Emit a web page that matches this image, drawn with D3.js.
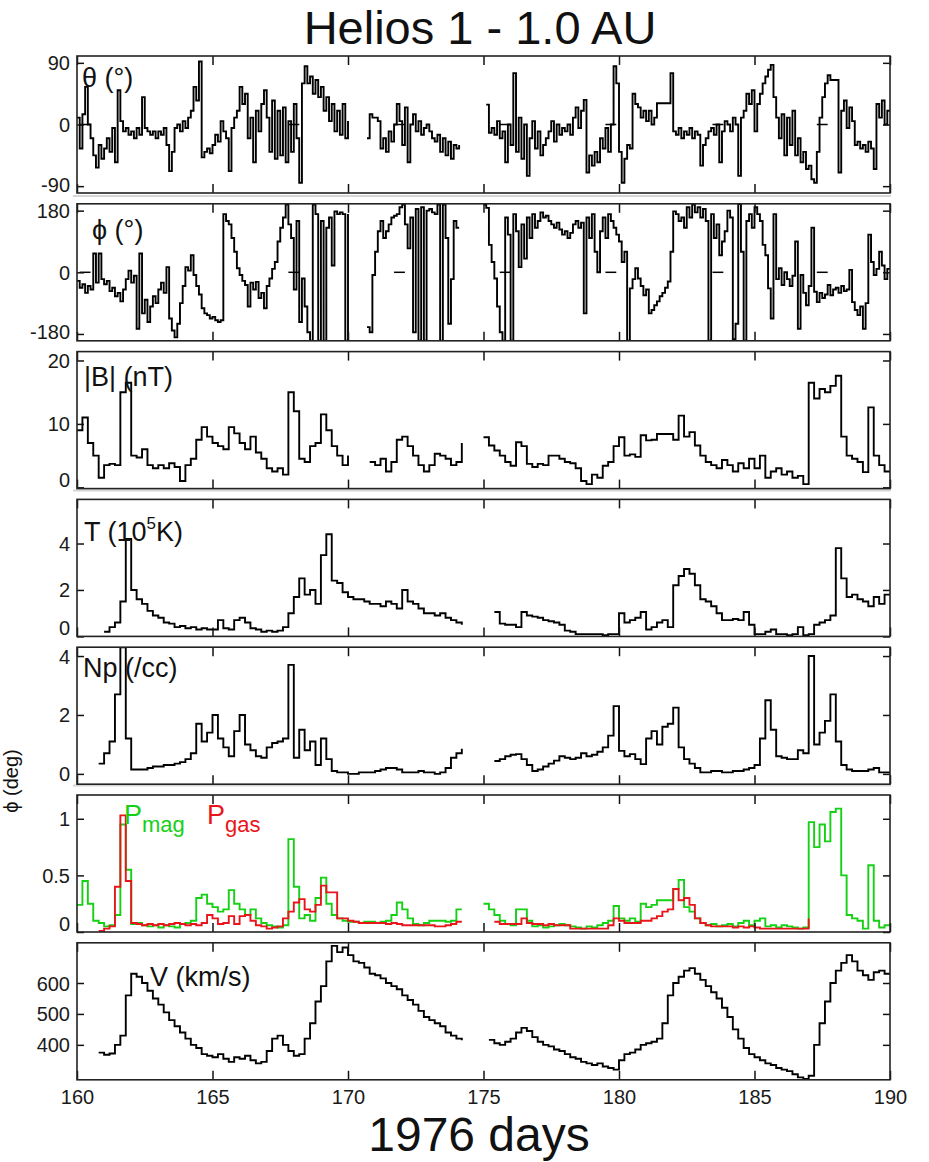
<!DOCTYPE html>
<html>
<head>
<meta charset="utf-8">
<script src="https://cdn.jsdelivr.net/npm/d3@7"></script>
<style>
  body { margin: 0; background: #fff; }
  svg text { font-family: "Liberation Sans", Arial, Helvetica, sans-serif; }
</style>
</head>
<body>
<svg id="chart" width="929" height="1162"></svg>
<script>
const N = null;

// ---- time axis ----
const dayDomain = [160, 190];
const dayTicks = [160, 165, 170, 175, 180, 185, 190];
const fineStepPerDay = 10;   // theta / phi sampled every 0.1 day
const coarseStepPerDay = 5;  // other quantities sampled every 0.2 day

// ---- magnetic field latitude theta (deg), 0.1-day samples from day 160.0 ----
const thetaDeg = [
  10, -35, 15, 55, 0, -20, -45, -63, -30, -50,
  -35, -20, -40, -5, -55, 50, 5, -10, -5, -15,
  -10, -20, -5, -15, 40, -5, -10, -15, -10, -20,
  -10, -15, -5, -30, -68, -40, -5, 0, -10, 5,
  -5, 10, 20, 55, 35, 92, -48, -40, -35, -42,
  -30, -15, -25, 5, -10, -20, -68, -5, 10, 20,
  55, 30, 45, -20, 10, -55, 20, -10, 30, 50,
  10, -40, 35, -50, 20, -45, 25, -55, 5, -40,
  30, -20, -85, 60, 85, 60, 70, 45, 65, 40,
  55, 20, 40, 5, 30, -10, 20, -15, 30, -20,
  5, N, N, N, N, N, N, -20, 15, 10,
  10, 5, -35, -20, -40, -10, -25, 0, 30, 5,
  -30, 25, -55, 0, 15, -10, 5, -15, -5, 0,
  -10, -20, -25, -15, -40, -20, -45, -25, -50, -30,
  -35, -30, N, N, N, N, N, N, N, N,
  N, 29, -12, -5, -15, 5, -20, -10, -55, 0,
  -30, 75, -40, 10, -50, 0, -75, -20, 5, -35,
  -10, -45, -30, -20, -10, 5, -25, 0, -15, -5,
  -10, 0, -15, 10, 25, -5, 20, 36, -70, -45,
  -60, -40, -55, -20, -35, -5, -40, 0, 85, 60,
  -40, -85, -50, -30, -35, 45, 30, 25, 10, 20,
  5, 20, 0, 10, 31, 31, 31, 31, 31, 75,
  -10, -15, -5, -20, -10, -15, -5, -20, -10, -15,
  -60, -30, -20, -10, -5, -15, 0, -55, -10, 5,
  0, -10, 10, 0, -75, 10, 20, 45, 30, 50,
  -10, 30, 45, 60, 70, 80, 87, 40, 10, -20,
  15, -45, 10, -30, 20, -45, -20, -55, -40, -65,
  -60, -80, -85, -40, 10, 40, 60, 72, 65, 65,
  65, -70, 20, 35, -5, 25, 5, -30, -25, -35,
  -30, -40, -25, -35, -65, 30, 10, 35, 0, 20,
  20
];

// ---- magnetic field azimuth phi (deg), 0.1-day samples ----
const phiDeg = [
  -25, -45, -35, -60, -40, -50, 55, -30, 55, -20,
  -35, -25, -55, -45, -70, -60, -85, -50, -20, 5,
  -30, -10, -165, 55, -120, -80, -145, -100, -70, -90,
  -50, -30, -60, 15, -135, -170, -190, -150, -90, -40,
  15, 5, 50, -8, -40, -65, -105, -120, -125, -135,
  -130, -140, -145, -140, 170, 150, 140, 100, 60, 12,
  -8, -25, -37, -100, -30, -50, -28, -75, -60, -105,
  -40, -18, 10, 30, 90, 130, 160, 198, 140, 100,
  -50, 150, -145, -18, -100, -175, -200, 198, 170, -200,
  150, -200, 130, 160, 20, 178, 170, 175, 170, -200,
  170, N, N, N, N, N, N, -160, -175, -8,
  60, 120, 150, 100, 120, 140, 160, 165, 170, 190,
  198, 140, 70, 160, -175, 185, -200, 190, -200, 180,
  185, 175, 170, 198, -200, 198, 100, -150, -20, 150,
  130, 130, N, N, N, N, N, N, N, N,
  198, 188, 80, 30, -18, -100, -175, -200, 160, 110,
  -200, 170, 120, 15, 140, 40, 160, 100, 170, 130,
  150, 175, 160, 165, 150, 140, 130, 145, 125, 110,
  120, 100, 115, 140, 150, 130, 145, -120, 160, 100,
  170, 60, 0, 120, 160, 100, 170, 150, 130, 110,
  90, 30, 60, -200, -47, -20, 12, -18, -40, -67,
  -50, -120, -110, -96, -85, -70, -60, -45, -27, 60,
  178, 170, 150, 160, 130, 190, 160, 198, 175, 190,
  160, 185, 150, -200, 170, 100, 140, 50, 90, 120,
  180, 160, -195, -150, 199, 60, -200, 150, 170, 130,
  190, 170, 150, 80, 50, -47, -135, 170, -20, 12,
  -37, 0, -20, -40, -10, 90, -165, -8, -60, -96,
  -40, 130, -57, -87, -60, -75, -65, -37, -67, -50,
  -45, -60, -40, -55, -50, 7, -87, -110, -125, -100,
  -165, -90, 110, 30, -8, 10, 60, 20, -20, 10,
  10
];

// ---- |B| (nT), 0.2-day samples ----
const bMag = [
  9, 11, 7, 5, 1.5,
  3.5, 3.7, 3.5, 15, 16.5,
  5, 4.7, 6, 3.5, 3,
  3.5, 3, 3.8, 3.2, 1,
  3.5, 4.5, 7.5, 9.5, 8,
  7, 6.5, 6, 9.5, 8.5,
  7, 6, 8, 5.5, 4.5,
  3, 2.5, 3, 2, 15,
  12, 4.5, 4, 6.5, 7,
  11.5, 9, 6.5, 5, 3.5,
  5, N, N, N, 4,
  3.5, 4.5, 2.5, 4, 7.5,
  8, 6.5, 5, 3.5, 2.5,
  3.5, 5.3, 5, 4.5, 3.5,
  4, 7, N, N, N,
  7.9, 6.6, 5.8, 5, 4,
  3.4, 7.1, 6.5, 3.7, 3.2,
  3.7, 3.5, 5, 5, 4.5,
  4, 3.8, 3, 1, 0.5,
  2, 1.5, 3.4, 4, 6.5,
  7.9, 5, 5.2, 4.8, 8.2,
  7.4, 7.5, 8.4, 8.4, 8.4,
  7.5, 11.3, 8, 8.7, 6.6,
  5, 4, 3.5, 3, 4.3,
  3.5, 2.5, 3.8, 3, 4.5,
  3, 5, 1.5, 2.5, 3,
  2, 2.5, 1.5, 1.8, 0.5,
  16.5, 14, 15.5, 15, 16,
  17.6, 8, 5, 4.5, 4,
  2.4, 12.6, 5, 3.5, 2.5,
  2.5
];

// ---- proton temperature (1e5 K), 0.2-day samples ----
const tempE5 = [
  N, N, N, N, N,
  0.2, 0.4, 0.6, 1.5, 4.2,
  2, 1.6, 1.4, 1.1, 0.9,
  0.8, 0.6, 0.55, 0.4, 0.45,
  0.35, 0.4, 0.3, 0.35, 0.3,
  0.3, 0.7, 0.35, 0.3, 0.7,
  0.8, 0.6, 0.35, 0.3, 0.2,
  0.25, 0.2, 0.25, 0.4, 1.0,
  1.7, 2.5, 1.8, 2.0, 1.4,
  3.5, 4.4, 2.4, 2.3, 1.9,
  1.7, 1.6, 1.6, 1.5, 1.4,
  1.4, 1.3, 1.5, 1.4, 1.2,
  2.0, 1.5, 1.4, 1.2, 1.0,
  1.0, 0.9, 1.0, 0.8, 0.7,
  0.6, 0.5, N, N, N,
  N, N, 1.05, 0.55, 0.5,
  0.5, 0.4, 1.05, 0.9, 0.85,
  0.8, 0.7, 0.65, 0.6, 0.5,
  0.25, 0.2, 0.1, 0.1, 0.1,
  0.1, 0.1, 0.05, 0.1, 0.1,
  1.0, 0.6, 0.7, 0.8, 1.05,
  0.3, 0.4, 0.6, 0.7, 0.4,
  2.2, 2.6, 2.9, 2.7, 2.2,
  1.6, 1.5, 1.3, 1.0, 0.7,
  0.7, 0.75, 0.7, 1.05, 0.5,
  0.1, 0.1, 0.2, 0.3, 0.1,
  0.1, 0.05, 0.1, 0.4, 0.05,
  0.1, 0.5, 0.6, 0.7, 0.9,
  3.8, 2.5, 1.7, 1.8, 1.6,
  1.5, 1.3, 1.7, 1.4, 1.8,
  1.8
];

// ---- proton density (/cc), 0.2-day samples ----
const npDensity = [
  N, N, N, N, 0.35,
  0.7, 1.1, 2.7, 4.3, 1.2,
  0.15, 0.15, 0.15, 0.2, 0.25,
  0.25, 0.3, 0.3, 0.35, 0.4,
  0.5, 0.7, 1.7, 1.1, 1.4,
  2.0, 1.2, 0.9, 0.6, 1.45,
  2.0, 1.0, 0.8, 0.6, 0.55,
  0.9, 1.05, 1.1, 1.2, 3.7,
  0.55, 1.5, 0.8, 1.1, 0.3,
  1.2, 0.5, 0.1, 0.05, 0.05,
  0.0, 0.0, 0.05, 0.05, 0.05,
  0.1, 0.15, 0.2, 0.2, 0.15,
  0.05, 0.05, 0.05, 0.1, 0.05,
  0.05, 0.0, 0.05, 0.2, 0.55,
  0.7, 0.85, N, N, N,
  N, N, 0.44, 0.5, 0.6,
  0.65, 0.67, 0.5, 0.3, 0.1,
  0.15, 0.25, 0.35, 0.45, 0.6,
  0.55, 0.5, 0.55, 0.7, 0.6,
  0.65, 0.75, 0.9, 1.3, 2.3,
  0.78, 0.6, 0.67, 0.5, 0.33,
  1.2, 1.45, 1.0, 1.6, 1.7,
  2.25, 0.9, 0.5, 0.35, 0.2,
  0.05, 0.05, 0.1, 0.1, 0.05,
  0.05, 0.1, 0.1, 0.15, 0.2,
  0.3, 1.2, 2.5, 1.5, 0.6,
  0.55, 0.5, 0.5, 0.8, 0.7,
  4.0, 1.0, 1.4, 1.8, 2.7,
  1.1, 0.3, 0.15, 0.1, 0.1,
  0.1, 0.15, 0.2, 0.05, 0.05,
  0.05
];

// ---- magnetic pressure and gas pressure, 0.2-day samples ----
const pMag = [
  0.24, 0.45, 0.25, 0.1, 0.08,
  0.05, 0.06, 0.15, 0.95, 0.55,
  0.07, 0.08, 0.06, 0.05, 0.06,
  0.04, 0.06, 0.05, 0.04, 0.07,
  0.08, 0.1, 0.3, 0.33, 0.25,
  0.22, 0.18, 0.2, 0.37, 0.25,
  0.2, 0.15, 0.2, 0.12, 0.08,
  0.06, 0.05, 0.04, 0.06, 0.82,
  0.4, 0.12, 0.15, 0.1, 0.3,
  0.48, 0.25, 0.15, 0.12, 0.1,
  0.09, 0.09, 0.08, 0.09, 0.09,
  0.08, 0.09, 0.1, 0.15, 0.26,
  0.2, 0.12, 0.07, 0.06, 0.08,
  0.1, 0.1, 0.1, 0.09, 0.1,
  0.2, 0.2, N, N, N,
  0.25, 0.2, 0.15, 0.1, 0.07,
  0.06, 0.2, 0.2, 0.1, 0.05,
  0.06, 0.04, 0.05, 0.06, 0.07,
  0.06, 0.05, 0.04, 0.03, 0.05,
  0.04, 0.06, 0.08, 0.1, 0.23,
  0.12, 0.1, 0.12, 0.09, 0.25,
  0.22, 0.24, 0.28, 0.28, 0.28,
  0.38, 0.46, 0.22, 0.18, 0.12,
  0.08, 0.06, 0.07, 0.05, 0.06,
  0.07, 0.05, 0.08, 0.1, 0.06,
  0.1, 0.12, 0.05, 0.06, 0.04,
  0.06, 0.05, 0.04, 0.03, 0.04,
  0.97, 0.75, 0.95, 0.8, 1.06,
  1.09, 0.5, 0.15, 0.12, 0.1,
  0.03, 0.59, 0.1, 0.04, 0.06,
  0.06
];

const pGas = [
  N, N, N, N, 0.01,
  0.03, 0.05, 0.4, 1.03, 0.45,
  0.08, 0.07, 0.06, 0.07, 0.06,
  0.07, 0.06, 0.07, 0.08, 0.07,
  0.06, 0.07, 0.06, 0.08, 0.15,
  0.12, 0.07, 0.08, 0.14, 0.07,
  0.14, 0.15, 0.1, 0.06, 0.05,
  0.03, 0.04, 0.05, 0.12, 0.18,
  0.26, 0.29, 0.2, 0.18, 0.24,
  0.41, 0.35, 0.35, 0.12, 0.12,
  0.1, 0.09, 0.08, 0.08, 0.08,
  0.08, 0.08, 0.07, 0.08, 0.07,
  0.06, 0.06, 0.06, 0.06, 0.06,
  0.06, 0.05, 0.05, 0.06, 0.07,
  0.09, 0.09, N, N, N,
  N, N, 0.09, 0.07, 0.07,
  0.07, 0.07, 0.12, 0.08, 0.07,
  0.07, 0.06, 0.07, 0.06, 0.06,
  0.06, 0.03, 0.03, 0.03, 0.03,
  0.03, 0.03, 0.03, 0.06, 0.12,
  0.1, 0.08, 0.08, 0.08, 0.1,
  0.1, 0.12, 0.14, 0.18, 0.2,
  0.38, 0.28, 0.3, 0.24, 0.12,
  0.08, 0.06, 0.05, 0.05, 0.05,
  0.05, 0.04, 0.05, 0.04, 0.05,
  0.04, 0.03, 0.03, 0.03, 0.03,
  0.03, 0.03, 0.03, 0.03, 0.03,
  0.12, N, N, N, N,
  N, N, N, N, N,
  N, N, N, N, N,
  N
];

// ---- solar wind speed (km/s), 0.2-day samples ----
const speed = [
  N, N, N, N, 375,
  368, 372, 400, 430, 560,
  630, 620, 600, 575, 550,
  530, 505, 480, 460, 440,
  420, 400, 390, 370, 365,
  360, 370, 355, 345, 360,
  355, 365, 350, 340, 345,
  380, 420, 430, 400, 380,
  365, 370, 420, 470, 540,
  590, 670, 720, 700, 715,
  690, 670, 665, 650, 630,
  625, 615, 600, 590, 580,
  560, 545, 530, 510, 490,
  480, 470, 460, 440, 430,
  420, 415, N, N, N,
  N, 416, 405, 400, 410,
  420, 440, 455, 445, 425,
  410, 400, 395, 385, 380,
  370, 360, 355, 345, 340,
  335, 340, 330, 325, 320,
  350, 370, 375, 385, 400,
  405, 410, 420, 470, 560,
  600, 620, 640, 648, 630,
  610, 590, 570, 550, 520,
  490, 450, 420, 390, 370,
  360, 350, 340, 335, 325,
  320, 315, 305, 295, 290,
  300, 400, 470, 540, 600,
  640, 665, 690, 670, 640,
  625, 610, 635, 640, 630,
  630
];

// short zero-level markers in the angle panels (start day of each)
const zeroMarkDays = [160.1, 167.8, 171.7, 175.6, 179.5, 183.45, 187.3];

// ---- y tick values per panel ----
const thetaTicks = [-90, 0, 90];
const phiTicks = [-180, 0, 180];
const bTicks = [0, 10, 20];
const tTicks = [0, 2, 4];
const npTicks = [0, 2, 4];
const pTicks = [0, 0.5, 1];
const vTicks = [400, 500, 600];

// ---- layout ----
const svg = d3.select("#chart");
const plotLeft = 77, plotRight = 890;
const panelTop0 = 56, panelStep = 147.8, panelH = 137;
const FONT = '"Liberation Sans", Arial, sans-serif';

const x = d3.scaleLinear().domain(dayDomain).range([plotLeft, plotRight]);
const fineDays = d3.range(thetaDeg.length).map(i => dayDomain[0] + i / fineStepPerDay);
const coarseDays = d3.range(bMag.length).map(i => dayDomain[0] + i / coarseStepPerDay);

const BLACK = "#000";
const GREEN = "#16d016";
const RED = "#e8161b";

const panels = [
  { domain: [-100, 100], ticks: thetaTicks, zero: true,
    series: [{ days: fineDays, values: thetaDeg, color: BLACK }] },
  { domain: [-200, 200], ticks: phiTicks, zero: true,
    series: [{ days: fineDays, values: phiDeg, color: BLACK }] },
  { domain: [-0.2, 21.4], ticks: bTicks,
    series: [{ days: coarseDays, values: bMag, color: BLACK }] },
  { domain: [0, 5.9], ticks: tTicks,
    series: [{ days: coarseDays, values: tempE5, color: BLACK }] },
  { domain: [-0.35, 4.3], ticks: npTicks,
    series: [{ days: coarseDays, values: npDensity, color: BLACK }] },
  { domain: [0, 1.21], ticks: pTicks,
    series: [{ days: coarseDays, values: pMag, color: GREEN },
             { days: coarseDays, values: pGas, color: RED }] },
  { domain: [287, 730], ticks: vTicks, last: true,
    series: [{ days: coarseDays, values: speed, color: BLACK }] }
];

// faint separator strips above some panels
[196, 490.5, 785.5].forEach(yy => {
  svg.append("line").attr("x1", 73).attr("x2", plotRight + 1)
    .attr("y1", yy).attr("y2", yy)
    .attr("stroke", "#d6d6d6").attr("stroke-width", 2);
});

panels.forEach((p, i) => {
  const top = panelTop0 + i * panelStep;
  const bottom = top + panelH;
  const y = d3.scaleLinear().domain(p.domain).range([bottom, top]);
  const g = svg.append("g");

  const clipId = "clip" + i;
  svg.append("clipPath").attr("id", clipId).append("rect")
    .attr("x", plotLeft).attr("y", top).attr("width", plotRight - plotLeft).attr("height", panelH);

  // zero-level markers
  if (p.zero) {
    g.selectAll("line.zm").data(zeroMarkDays).join("line")
      .attr("class", "zm")
      .attr("x1", d => x(d)).attr("x2", d => x(d + 0.4))
      .attr("y1", y(0)).attr("y2", y(0))
      .attr("stroke", BLACK).attr("stroke-width", 1.5);
  }

  // data traces
  const plot = g.append("g").attr("clip-path", `url(#${clipId})`);
  p.series.forEach(s => {
    const pts = s.days.map((d, k) => ({ d, v: s.values[k] }));
    const line = d3.line()
      .defined(q => q.v !== null)
      .x(q => x(q.d)).y(q => y(q.v))
      .curve(d3.curveStepAfter);
    plot.append("path").datum(pts)
      .attr("d", line)
      .attr("fill", "none")
      .attr("stroke", s.color)
      .attr("stroke-width", 1.9)
      .attr("stroke-linejoin", "miter");
  });

  // x ticks, inward on top and bottom
  const xTop = d3.axisTop(x).tickValues(dayTicks).tickSize(-9).tickFormat("");
  g.append("g").attr("transform", `translate(0,${top})`).call(xTop)
    .call(a => a.select(".domain").remove());
  const xBot = d3.axisBottom(x).tickValues(dayTicks).tickSize(-9).tickPadding(10)
    .tickFormat(p.last ? (d => String(d)) : "");
  const xb = g.append("g").attr("transform", `translate(0,${bottom})`).call(xBot)
    .call(a => a.select(".domain").remove());
  xb.selectAll("text").attr("font-size", 20).attr("fill", "#1a1a1a")
    .attr("font-family", FONT);

  // y ticks, inward on both sides
  const yl = g.append("g").attr("transform", `translate(${plotLeft},0)`)
    .call(d3.axisLeft(y).tickValues(p.ticks).tickSize(-7).tickPadding(7).tickFormat(d => String(d)))
    .call(a => a.select(".domain").remove());
  yl.selectAll("text")
    .attr("font-size", 20).attr("fill", "#1a1a1a")
    .attr("font-family", FONT)
    .attr("dy", "0.35em")
    .attr("y", d => Math.min(y(d), bottom - 9) - y(d));
  g.append("g").attr("transform", `translate(${plotRight},0)`)
    .call(d3.axisRight(y).tickValues(p.ticks).tickSize(-7).tickFormat(""))
    .call(a => a.select(".domain").remove());

  g.selectAll(".tick line").attr("stroke", "#111").attr("stroke-width", 1.5);

  // frame
  g.append("rect").attr("x", plotLeft).attr("y", top)
    .attr("width", plotRight - plotLeft).attr("height", panelH)
    .attr("fill", "none").attr("stroke", "#222").attr("stroke-width", 1.6);
});

// ---- panel labels ----
const lab = (xx, yy, color) => svg.append("text").attr("x", xx).attr("y", yy)
  .attr("font-size", 27).attr("fill", color || "#111");
const pt = i => panelTop0 + i * panelStep;

lab(82, pt(0) + 31).text("θ (°)");
lab(92, pt(1) + 35).text("ϕ (°)");
lab(84, pt(2) + 34).text("|B| (nT)");
{
  const t = lab(84, pt(3) + 42);
  t.append("tspan").text("T (10");
  t.append("tspan").attr("font-size", 17).attr("dy", -12).text("5");
  t.append("tspan").attr("dy", 12).text("K)");
}
lab(83, pt(4) + 30).text("Np (/cc)");
{
  const a = lab(124, pt(5) + 29, GREEN);
  a.append("tspan").text("P");
  a.append("tspan").attr("font-size", 22).attr("dy", 8).text("mag");
  const b = lab(207, pt(5) + 29, RED);
  b.append("tspan").text("P");
  b.append("tspan").attr("font-size", 22).attr("dy", 8).text("gas");
}
lab(150, pt(6) + 43).text("V (km/s)");

// stray rotated axis caption on the left edge
svg.append("text")
  .attr("transform", "translate(18,781) rotate(-90)")
  .attr("text-anchor", "middle").attr("font-size", 20).attr("fill", "#111")
  .text("ϕ (deg)");

// ---- title and x-axis caption ----
svg.append("text").attr("x", 480).attr("y", 44).attr("text-anchor", "middle")
  .attr("font-size", 47).attr("fill", "#111").text("Helios 1 - 1.0 AU");
svg.append("text").attr("x", 479).attr("y", 1151).attr("text-anchor", "middle")
  .attr("font-size", 48).attr("fill", "#111").text("1976 days");
</script>
</body>
</html>
